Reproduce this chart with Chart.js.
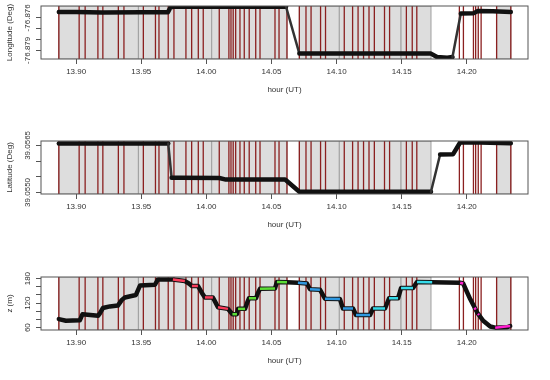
<!DOCTYPE html>
<html>
<head>
<meta charset="utf-8">
<script src="https://cdn.jsdelivr.net/npm/chart.js@4.4.0/dist/chart.umd.min.js"></script>
<style>
  html, body { margin: 0; padding: 0; background: #fff; width: 550px; height: 380px; overflow: hidden; }
  .panel { position: absolute; left: 0; width: 550px; }
</style>
</head>
<body>
<div class="panel" style="top:0px"><canvas id="lonChart" width="550" height="110"></canvas></div>
<div class="panel" style="top:125px"><canvas id="latChart" width="550" height="120"></canvas></div>
<div class="panel" style="top:261px"><canvas id="zChart" width="550" height="120"></canvas></div>
<script>
/* three stacked panels sharing the same time axis,
   gray intervals and red event lines */

// shared x axis
const xMin = 13.873;
const xMax = 14.247;
const hourTicks = [13.90, 13.95, 14.00, 14.05, 14.10, 14.15, 14.20];

// gray intervals
const bandStart = [13.8867, 13.9478, 14.0041, 14.0714, 14.1021, 14.1495, 14.2229];
const bandEnd   = [13.9478, 14.0041, 14.0619, 14.1021, 14.1495, 14.1725, 14.2338];

// red event lines
const eventHours = [13.8867, 13.9023, 13.9069, 13.9167, 13.9205, 13.9324, 13.9367, 13.9516,
  13.9609, 13.9636, 13.9707, 13.9751, 13.9843, 13.9887, 13.9938, 13.9976, 14.0099, 14.0173,
  14.0189, 14.0206, 14.0225, 14.0258, 14.0291, 14.0329, 14.0379, 14.0412, 14.0527, 14.0558,
  14.0619, 14.0714, 14.0765, 14.0804, 14.0877, 14.0915, 14.1059, 14.1123, 14.1165, 14.1207,
  14.1249, 14.1290, 14.1368, 14.1407, 14.1536, 14.1581, 14.1616, 14.1943, 14.1974, 14.2051,
  14.2068, 14.2088, 14.2110, 14.2229, 14.2338];

// longitude panel
const lonHour = [13.8867, 13.9000, 13.9200, 13.9500, 13.9705, 13.9725, 13.9750, 14.0000, 14.0300,
  14.0612, 14.0714, 14.1000, 14.1400, 14.1725, 14.1771, 14.1850, 14.1890, 14.1925, 14.1954,
  14.2050, 14.2085, 14.2200, 14.2338];
const lonDeg = [-76.87546, -76.87547, -76.87552, -76.87549, -76.87548, -76.87503, -76.87498,
  -76.87498, -76.87498, -76.87498, -76.87930, -76.87930, -76.87930, -76.87930, -76.87962,
  -76.87969, -76.87962, -76.87740, -76.87561, -76.87559, -76.87537, -76.87540, -76.87546];
const lonTicks = [-76.879, -76.878, -76.877, -76.876];
const lonTickLabels = ["-76.879", "", "", "-76.876"];

// latitude panel
const latHour = [13.8867, 13.9300, 13.9707, 13.9733, 13.9800, 14.0100, 14.0150, 14.0605, 14.0714,
  14.1200, 14.1725, 14.1795, 14.1895, 14.1950, 14.2100, 14.2338];
const latDeg = [39.05656, 39.05656, 39.05656, 39.05547, 39.05547, 39.05546, 39.05541, 39.05541,
  39.05502, 39.05502, 39.05502, 39.05621, 39.05622, 39.05660, 39.05659, 39.05657];
const latTicks = [39.0550, 39.0555, 39.0560, 39.0565];
const latTickLabels = ["39.0550", "", "", "39.0565"];

// altitude panel
const zHour = [13.8867, 13.8921, 13.9028, 13.9049, 13.9169, 13.9182, 13.9205, 13.9259, 13.9320,
  13.9351, 13.9374, 13.9459, 13.9490, 13.9605, 13.9628, 13.9743, 13.9835, 13.9866, 13.9889,
  13.9935, 13.9966, 13.9989, 14.0050, 14.0070, 14.0089, 14.0166, 14.0181, 14.0200, 14.0235,
  14.0243, 14.0297, 14.0312, 14.0327, 14.0381, 14.0396, 14.0412, 14.0527, 14.0542, 14.0619,
  14.0703, 14.0772, 14.0796, 14.0872, 14.0911, 14.1026, 14.1049, 14.1126, 14.1149, 14.1257,
  14.1280, 14.1372, 14.1403, 14.1472, 14.1495, 14.1587, 14.1618, 14.1734, 14.1949, 14.1972,
  14.2026, 14.2080, 14.2126, 14.2180, 14.2218, 14.2310, 14.2333];
const zMeters = [81, 77, 78, 93, 89, 95, 108, 112, 114, 128, 134, 140, 163, 165, 178, 178, 174,
  168, 162, 162, 145, 134, 134, 122, 110, 106, 100, 93, 93, 106, 106, 120, 132, 132, 145, 155,
  156, 172, 171, 170, 168, 154, 153, 131, 130, 107, 107, 91, 91, 107, 107, 132, 132, 157, 157,
  172, 171, 170, 168, 130, 97, 77, 63, 60, 61, 64];
const zTicks = [60, 80, 100, 120, 140, 160, 180];
const zTickLabels = ["60", "", "", "120", "", "", "180"];

// coloured level segments on the altitude track
const segHourA = [13.9743, 13.9889, 13.9989, 14.0089, 14.0200, 14.0243, 14.0327, 14.0412, 14.0542,
  14.0703, 14.0796, 14.0911, 14.1049, 14.1149, 14.1280, 14.1403, 14.1495, 14.1618, 14.1949,
  14.2060, 14.2086, 14.2218];
const segHourB = [13.9835, 13.9935, 14.0050, 14.0166, 14.0235, 14.0297, 14.0381, 14.0527, 14.0619,
  14.0772, 14.0872, 14.1026, 14.1126, 14.1257, 14.1372, 14.1472, 14.1587, 14.1734, 14.1972,
  14.2068, 14.2094, 14.2333];
const segZA = [178, 162, 134, 110, 93, 106, 132, 155, 172, 170, 154, 131, 107, 91, 107, 132, 157, 172, 170, 109, 94, 60];
const segZB = [174, 162, 134, 106, 93, 106, 132, 156, 171, 168, 153, 130, 107, 91, 107, 132, 157, 171, 168, 104, 91, 64];
const segGroup = ["red", "red", "red", "red", "green", "green", "green", "green", "green",
  "blue", "blue", "blue", "blue", "blue", "cyan", "cyan", "cyan", "cyan",
  "magenta", "magenta", "magenta", "magenta"];
const groupColors = { red: "#fb3d5c", green: "#5bdc35", blue: "#2f98e0", cyan: "#36dbea", magenta: "#ff1ed0" };

Chart.defaults.font.family = "'Liberation Sans', Arial, Helvetica, sans-serif";
Chart.defaults.font.size = 8;
Chart.defaults.color = "#333";

const bandsPlugin = {
  id: "bands",
  beforeDatasetsDraw(chart) {
    const { ctx, chartArea: a, scales: { x } } = chart;
    ctx.save();
    ctx.beginPath();
    ctx.rect(a.left, a.top, a.right - a.left, a.bottom - a.top);
    ctx.clip();
    ctx.fillStyle = "#dddddd";
    ctx.strokeStyle = "#a0a0a0";
    ctx.lineWidth = 1;
    for (let i = 0; i < bandStart.length; i++) {
      const x0 = x.getPixelForValue(bandStart[i]);
      const x1 = x.getPixelForValue(bandEnd[i]);
      ctx.fillRect(x0, a.top, x1 - x0, a.bottom - a.top);
      ctx.strokeRect(x0, a.top, x1 - x0, a.bottom - a.top);
    }
    ctx.strokeStyle = "#8b2020";
    ctx.lineWidth = 1.3;
    eventHours.forEach(h => {
      const px = x.getPixelForValue(h);
      ctx.beginPath();
      ctx.moveTo(px, a.top);
      ctx.lineTo(px, a.bottom);
      ctx.stroke();
    });
    ctx.restore();
  },
  afterDatasetsDraw(chart) {
    const { ctx, chartArea: a } = chart;
    ctx.save();
    ctx.strokeStyle = "#555";
    ctx.lineWidth = 1;
    ctx.strokeRect(a.left, a.top, a.right - a.left, a.bottom - a.top);
    ctx.restore();
  }
};

// rotated y tick labels, read like R's side-2 labels
function yLabelPlugin(ticks, labels) {
  return {
    id: "ylabels",
    afterDraw(chart) {
      const { ctx, scales: { y } } = chart;
      ctx.save();
      ctx.fillStyle = "#333";
      ctx.font = "8px 'Liberation Sans', Arial, sans-serif";
      ctx.textAlign = "center";
      ctx.textBaseline = "middle";
      ticks.forEach((v, i) => {
        if (!labels[i]) return;
        ctx.save();
        ctx.translate(28, y.getPixelForValue(v));
        ctx.rotate(-Math.PI / 2);
        ctx.fillText(labels[i], 0, 0);
        ctx.restore();
      });
      ctx.restore();
    }
  };
}

function steep(c) {
  return Math.abs(c.p1.y - c.p0.y) > 2.5 * Math.abs(c.p1.x - c.p0.x);
}

function makePanel(id, padTop, hours, vals, yMin, yMax, yTicks, yLabels, yTitle, extra, thinSteep) {
  const datasets = [{
    data: hours.map((h, i) => ({ x: h, y: vals[i] })),
    order: 1,
    borderColor: "#111",
    borderWidth: 4.5,
    borderJoinStyle: "round",
    borderCapStyle: "round",
    pointRadius: 0,
    tension: 0,
    segment: thinSteep ? {
      borderWidth: c => steep(c) ? 2.5 : 4.5,
      borderColor: c => steep(c) ? "#333" : "#111"
    } : {}
  }].concat(extra);

  return new Chart(document.getElementById(id), {
    type: "line",
    data: { datasets },
    options: {
      responsive: false,
      animation: false,
      events: [],
      layout: { padding: { top: padTop, right: 22, left: 0, bottom: 0 } },
      plugins: { legend: { display: false }, tooltip: { enabled: false } },
      scales: {
        x: {
          type: "linear",
          min: xMin,
          max: xMax,
          afterBuildTicks: s => { s.ticks = hourTicks.map(v => ({ value: v })); },
          afterFit: s => { s.height = 51; },
          ticks: { padding: 3, maxRotation: 0, autoSkip: false, callback: v => Number(v).toFixed(2) },
          grid: { drawOnChartArea: false, drawTicks: true, tickLength: 5, color: "#555" },
          border: { display: false },
          title: { display: true, text: "hour (UT)", padding: { top: 0, bottom: 15 } }
        },
        y: {
          type: "linear",
          min: yMin,
          max: yMax,
          afterBuildTicks: s => { s.ticks = yTicks.map(v => ({ value: v })); },
          afterFit: s => { s.width = 41; },
          ticks: { display: false },
          grid: { drawOnChartArea: false, drawTicks: true, tickLength: 5, color: "#555" },
          border: { display: false },
          title: { display: true, text: yTitle, padding: { top: 5, bottom: 0 } }
        }
      }
    },
    plugins: [bandsPlugin, yLabelPlugin(yTicks, yLabels)]
  });
}

makePanel("lonChart", 6, lonHour, lonDeg, -76.8798, -76.87491, lonTicks, lonTickLabels,
  "Longitude (Deg)", [], true);

makePanel("latChart", 16, latHour, latDeg, 39.05495, 39.05664, latTicks, latTickLabels,
  "Latitude (Deg)", [], true);

const segDatasets = segHourA.map((h, i) => ({
  data: [{ x: h, y: segZA[i] }, { x: segHourB[i], y: segZB[i] }],
  order: 0,
  borderColor: groupColors[segGroup[i]],
  borderWidth: 2.5,
  borderCapStyle: "butt",
  pointRadius: 0,
  tension: 0
}));

makePanel("zChart", 16, zHour, zMeters, 54.3, 184, zTicks, zTickLabels, "z (m)", segDatasets, false);
</script>
</body>
</html>
